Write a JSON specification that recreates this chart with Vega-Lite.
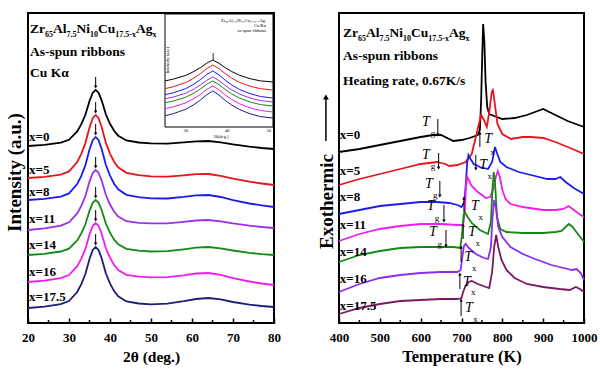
{
"$schema":"https://vega.github.io/schema/vega-lite/v6.json",
"background":"white",
"padding":{"left":4,"top":12,"right":0,"bottom":0},
"datasets":{
"xrd":[
{"sample":"x=0","theta":20,"y":177.0},{"sample":"x=0","theta":24,"y":178.1},{"sample":"x=0","theta":28,"y":180.3},{"sample":"x=0","theta":30,"y":183.2},{"sample":"x=0","theta":32,"y":191.6},{"sample":"x=0","theta":33,"y":198.8},{"sample":"x=0","theta":34,"y":208.2},{"sample":"x=0","theta":35,"y":222.0},{"sample":"x=0","theta":35.8,"y":230.3},{"sample":"x=0","theta":36.5,"y":233.1},{"sample":"x=0","theta":37.2,"y":230.4},{"sample":"x=0","theta":38,"y":222.2},{"sample":"x=0","theta":39,"y":208.5},{"sample":"x=0","theta":40,"y":199.2},{"sample":"x=0","theta":41,"y":192.2},{"sample":"x=0","theta":42,"y":187.3},{"sample":"x=0","theta":44,"y":182.5},{"sample":"x=0","theta":47,"y":180.5},{"sample":"x=0","theta":50,"y":179.6},{"sample":"x=0","theta":54,"y":179.4},{"sample":"x=0","theta":58,"y":180.6},{"sample":"x=0","theta":61,"y":181.7},{"sample":"x=0","theta":64,"y":182.0},{"sample":"x=0","theta":67,"y":180.7},{"sample":"x=0","theta":70,"y":178.6},{"sample":"x=0","theta":74,"y":176.3},{"sample":"x=0","theta":77,"y":175.0},{"sample":"x=0","theta":80,"y":174.0},
{"sample":"x=5","theta":20,"y":145.0},{"sample":"x=5","theta":24,"y":146.1},{"sample":"x=5","theta":28,"y":148.4},{"sample":"x=5","theta":30,"y":151.6},{"sample":"x=5","theta":32,"y":161.0},{"sample":"x=5","theta":33,"y":169.2},{"sample":"x=5","theta":34,"y":179.9},{"sample":"x=5","theta":35,"y":195.5},{"sample":"x=5","theta":35.8,"y":204.9},{"sample":"x=5","theta":36.5,"y":208.0},{"sample":"x=5","theta":37.2,"y":205.0},{"sample":"x=5","theta":38,"y":195.6},{"sample":"x=5","theta":39,"y":180.0},{"sample":"x=5","theta":40,"y":169.4},{"sample":"x=5","theta":41,"y":161.3},{"sample":"x=5","theta":42,"y":155.7},{"sample":"x=5","theta":44,"y":150.2},{"sample":"x=5","theta":47,"y":147.8},{"sample":"x=5","theta":50,"y":146.6},{"sample":"x=5","theta":54,"y":146.3},{"sample":"x=5","theta":58,"y":147.6},{"sample":"x=5","theta":61,"y":148.8},{"sample":"x=5","theta":64,"y":149.0},{"sample":"x=5","theta":67,"y":147.2},{"sample":"x=5","theta":70,"y":144.4},{"sample":"x=5","theta":74,"y":141.3},{"sample":"x=5","theta":77,"y":139.5},{"sample":"x=5","theta":80,"y":138.0},
{"sample":"x=8","theta":20,"y":123.0},{"sample":"x=8","theta":24,"y":124.1},{"sample":"x=8","theta":28,"y":126.4},{"sample":"x=8","theta":30,"y":129.6},{"sample":"x=8","theta":32,"y":139.0},{"sample":"x=8","theta":33,"y":147.2},{"sample":"x=8","theta":34,"y":157.9},{"sample":"x=8","theta":35,"y":173.5},{"sample":"x=8","theta":35.8,"y":182.9},{"sample":"x=8","theta":36.5,"y":186.0},{"sample":"x=8","theta":37.2,"y":183.0},{"sample":"x=8","theta":38,"y":173.6},{"sample":"x=8","theta":39,"y":158.0},{"sample":"x=8","theta":40,"y":147.4},{"sample":"x=8","theta":41,"y":139.3},{"sample":"x=8","theta":42,"y":133.7},{"sample":"x=8","theta":44,"y":128.2},{"sample":"x=8","theta":47,"y":125.8},{"sample":"x=8","theta":50,"y":124.6},{"sample":"x=8","theta":54,"y":124.5},{"sample":"x=8","theta":58,"y":126.1},{"sample":"x=8","theta":61,"y":127.6},{"sample":"x=8","theta":64,"y":128.0},{"sample":"x=8","theta":67,"y":126.0},{"sample":"x=8","theta":70,"y":122.9},{"sample":"x=8","theta":74,"y":119.5},{"sample":"x=8","theta":77,"y":117.6},{"sample":"x=8","theta":80,"y":116.0},
{"sample":"x=11","theta":20,"y":93.0},{"sample":"x=11","theta":24,"y":94.7},{"sample":"x=11","theta":28,"y":97.4},{"sample":"x=11","theta":30,"y":100.7},{"sample":"x=11","theta":32,"y":109.6},{"sample":"x=11","theta":33,"y":117.1},{"sample":"x=11","theta":34,"y":127.0},{"sample":"x=11","theta":35,"y":141.4},{"sample":"x=11","theta":35.8,"y":150.1},{"sample":"x=11","theta":36.5,"y":153.0},{"sample":"x=11","theta":37.2,"y":150.3},{"sample":"x=11","theta":38,"y":142.0},{"sample":"x=11","theta":39,"y":128.0},{"sample":"x=11","theta":40,"y":118.5},{"sample":"x=11","theta":41,"y":111.4},{"sample":"x=11","theta":42,"y":106.5},{"sample":"x=11","theta":44,"y":101.8},{"sample":"x=11","theta":47,"y":100.1},{"sample":"x=11","theta":50,"y":99.6},{"sample":"x=11","theta":54,"y":99.7},{"sample":"x=11","theta":58,"y":101.2},{"sample":"x=11","theta":61,"y":102.5},{"sample":"x=11","theta":64,"y":103.0},{"sample":"x=11","theta":67,"y":101.7},{"sample":"x=11","theta":70,"y":99.6},{"sample":"x=11","theta":74,"y":97.3},{"sample":"x=11","theta":77,"y":96.0},{"sample":"x=11","theta":80,"y":95.0},
{"sample":"x=14","theta":20,"y":68.0},{"sample":"x=14","theta":24,"y":69.2},{"sample":"x=14","theta":28,"y":71.5},{"sample":"x=14","theta":30,"y":74.3},{"sample":"x=14","theta":32,"y":82.5},{"sample":"x=14","theta":33,"y":89.6},{"sample":"x=14","theta":34,"y":98.7},{"sample":"x=14","theta":35,"y":112.2},{"sample":"x=14","theta":35.8,"y":120.3},{"sample":"x=14","theta":36.5,"y":123.0},{"sample":"x=14","theta":37.2,"y":120.4},{"sample":"x=14","theta":38,"y":112.5},{"sample":"x=14","theta":39,"y":99.2},{"sample":"x=14","theta":40,"y":90.3},{"sample":"x=14","theta":41,"y":83.4},{"sample":"x=14","theta":42,"y":78.7},{"sample":"x=14","theta":44,"y":74.1},{"sample":"x=14","theta":47,"y":72.3},{"sample":"x=14","theta":50,"y":71.5},{"sample":"x=14","theta":54,"y":71.9},{"sample":"x=14","theta":58,"y":73.7},{"sample":"x=14","theta":61,"y":75.3},{"sample":"x=14","theta":64,"y":76.0},{"sample":"x=14","theta":67,"y":74.7},{"sample":"x=14","theta":70,"y":72.5},{"sample":"x=14","theta":74,"y":70.2},{"sample":"x=14","theta":77,"y":68.9},{"sample":"x=14","theta":80,"y":68.0},
{"sample":"x=16","theta":20,"y":41.0},{"sample":"x=16","theta":24,"y":42.4},{"sample":"x=16","theta":28,"y":44.9},{"sample":"x=16","theta":30,"y":48.0},{"sample":"x=16","theta":32,"y":56.8},{"sample":"x=16","theta":33,"y":64.3},{"sample":"x=16","theta":34,"y":74.1},{"sample":"x=16","theta":35,"y":88.4},{"sample":"x=16","theta":35.8,"y":97.1},{"sample":"x=16","theta":36.5,"y":100.0},{"sample":"x=16","theta":37.2,"y":97.3},{"sample":"x=16","theta":38,"y":88.8},{"sample":"x=16","theta":39,"y":74.7},{"sample":"x=16","theta":40,"y":65.3},{"sample":"x=16","theta":41,"y":58.0},{"sample":"x=16","theta":42,"y":53.0},{"sample":"x=16","theta":44,"y":48.2},{"sample":"x=16","theta":47,"y":46.3},{"sample":"x=16","theta":50,"y":45.6},{"sample":"x=16","theta":54,"y":45.8},{"sample":"x=16","theta":58,"y":47.7},{"sample":"x=16","theta":61,"y":49.5},{"sample":"x=16","theta":64,"y":50.0},{"sample":"x=16","theta":67,"y":48.1},{"sample":"x=16","theta":70,"y":44.9},{"sample":"x=16","theta":74,"y":41.5},{"sample":"x=16","theta":77,"y":39.5},{"sample":"x=16","theta":80,"y":38.0},
{"sample":"x=17.5","theta":20,"y":15.0},{"sample":"x=17.5","theta":24,"y":16.3},{"sample":"x=17.5","theta":28,"y":18.8},{"sample":"x=17.5","theta":30,"y":21.9},{"sample":"x=17.5","theta":32,"y":31.0},{"sample":"x=17.5","theta":33,"y":38.9},{"sample":"x=17.5","theta":34,"y":49.0},{"sample":"x=17.5","theta":35,"y":64.0},{"sample":"x=17.5","theta":35.8,"y":73.0},{"sample":"x=17.5","theta":36.5,"y":76.0},{"sample":"x=17.5","theta":37.2,"y":73.1},{"sample":"x=17.5","theta":38,"y":64.3},{"sample":"x=17.5","theta":39,"y":49.5},{"sample":"x=17.5","theta":40,"y":39.6},{"sample":"x=17.5","theta":41,"y":31.9},{"sample":"x=17.5","theta":42,"y":26.7},{"sample":"x=17.5","theta":44,"y":21.6},{"sample":"x=17.5","theta":47,"y":19.5},{"sample":"x=17.5","theta":50,"y":18.6},{"sample":"x=17.5","theta":54,"y":19.3},{"sample":"x=17.5","theta":58,"y":21.8},{"sample":"x=17.5","theta":61,"y":24.0},{"sample":"x=17.5","theta":64,"y":25.0},{"sample":"x=17.5","theta":67,"y":23.6},{"sample":"x=17.5","theta":70,"y":21.0},{"sample":"x=17.5","theta":74,"y":18.4},{"sample":"x=17.5","theta":77,"y":17.0},{"sample":"x=17.5","theta":80,"y":16.0}
],
"inset":[
{"sample":"x=0","theta":25,"y":46.1},{"sample":"x=0","theta":27,"y":47.9},{"sample":"x=0","theta":30,"y":51.6},{"sample":"x=0","theta":32,"y":55.6},{"sample":"x=0","theta":33.5,"y":59.3},{"sample":"x=0","theta":35,"y":63.7},{"sample":"x=0","theta":36.5,"y":67},{"sample":"x=0","theta":38,"y":63.7},{"sample":"x=0","theta":39.5,"y":59.3},{"sample":"x=0","theta":41,"y":55.6},{"sample":"x=0","theta":43,"y":51.6},{"sample":"x=0","theta":45.5,"y":48.3},{"sample":"x=0","theta":48,"y":46.1},{"sample":"x=0","theta":51,"y":45},
{"sample":"x=5","theta":25,"y":38.3},{"sample":"x=5","theta":27,"y":40.3},{"sample":"x=5","theta":30,"y":44.5},{"sample":"x=5","theta":32,"y":49.0},{"sample":"x=5","theta":33.5,"y":53.3},{"sample":"x=5","theta":35,"y":58.3},{"sample":"x=5","theta":36.5,"y":62},{"sample":"x=5","theta":38,"y":58.3},{"sample":"x=5","theta":39.5,"y":53.3},{"sample":"x=5","theta":41,"y":49.0},{"sample":"x=5","theta":43,"y":44.5},{"sample":"x=5","theta":45.5,"y":40.8},{"sample":"x=5","theta":48,"y":38.3},{"sample":"x=5","theta":51,"y":37},
{"sample":"x=8","theta":25,"y":32.3},{"sample":"x=8","theta":27,"y":34.2},{"sample":"x=8","theta":30,"y":38.4},{"sample":"x=8","theta":32,"y":42.9},{"sample":"x=8","theta":33.5,"y":47.3},{"sample":"x=8","theta":35,"y":52.3},{"sample":"x=8","theta":36.5,"y":56.1},{"sample":"x=8","theta":38,"y":52.1},{"sample":"x=8","theta":39.5,"y":46.8},{"sample":"x=8","theta":41,"y":42.2},{"sample":"x=8","theta":43,"y":37.4},{"sample":"x=8","theta":45.5,"y":33.3},{"sample":"x=8","theta":48,"y":30.5},{"sample":"x=8","theta":51,"y":29},
{"sample":"x=11","theta":25,"y":28.2},{"sample":"x=11","theta":27,"y":30.0},{"sample":"x=11","theta":30,"y":33.8},{"sample":"x=11","theta":32,"y":38.0},{"sample":"x=11","theta":33.5,"y":42.0},{"sample":"x=11","theta":35,"y":46.6},{"sample":"x=11","theta":36.5,"y":50.1},{"sample":"x=11","theta":38,"y":46.4},{"sample":"x=11","theta":39.5,"y":41.5},{"sample":"x=11","theta":41,"y":37.2},{"sample":"x=11","theta":43,"y":32.8},{"sample":"x=11","theta":45.5,"y":29.0},{"sample":"x=11","theta":48,"y":26.4},{"sample":"x=11","theta":51,"y":25},
{"sample":"x=14","theta":25,"y":24.2},{"sample":"x=14","theta":27,"y":26.0},{"sample":"x=14","theta":30,"y":29.8},{"sample":"x=14","theta":32,"y":34.0},{"sample":"x=14","theta":33.5,"y":38.0},{"sample":"x=14","theta":35,"y":42.6},{"sample":"x=14","theta":36.5,"y":46.1},{"sample":"x=14","theta":38,"y":42.4},{"sample":"x=14","theta":39.5,"y":37.5},{"sample":"x=14","theta":41,"y":33.2},{"sample":"x=14","theta":43,"y":28.8},{"sample":"x=14","theta":45.5,"y":25.0},{"sample":"x=14","theta":48,"y":22.4},{"sample":"x=14","theta":51,"y":21},
{"sample":"x=16","theta":25,"y":18.3},{"sample":"x=16","theta":27,"y":20.1},{"sample":"x=16","theta":30,"y":24.1},{"sample":"x=16","theta":32,"y":28.5},{"sample":"x=16","theta":33.5,"y":32.6},{"sample":"x=16","theta":35,"y":37.5},{"sample":"x=16","theta":36.5,"y":41.1},{"sample":"x=16","theta":38,"y":37.2},{"sample":"x=16","theta":39.5,"y":32.1},{"sample":"x=16","theta":41,"y":27.7},{"sample":"x=16","theta":43,"y":23.1},{"sample":"x=16","theta":45.5,"y":19.2},{"sample":"x=16","theta":48,"y":16.5},{"sample":"x=16","theta":51,"y":15},
{"sample":"x=17.5","theta":25,"y":11.3},{"sample":"x=17.5","theta":27,"y":13.3},{"sample":"x=17.5","theta":30,"y":17.8},{"sample":"x=17.5","theta":32,"y":22.4},{"sample":"x=17.5","theta":33.5,"y":26.9},{"sample":"x=17.5","theta":35,"y":32.1},{"sample":"x=17.5","theta":36.5,"y":36.1},{"sample":"x=17.5","theta":38,"y":32.0},{"sample":"x=17.5","theta":39.5,"y":26.6},{"sample":"x=17.5","theta":41,"y":22.1},{"sample":"x=17.5","theta":43,"y":17.3},{"sample":"x=17.5","theta":45.5,"y":13.2},{"sample":"x=17.5","theta":48,"y":10.4},{"sample":"x=17.5","theta":51,"y":9}
],
"dsc":[
{"sample":"x=0","T":400,"q":171},{"sample":"x=0","T":450,"q":174},{"sample":"x=0","T":500,"q":178},{"sample":"x=0","T":550,"q":182},{"sample":"x=0","T":600,"q":186},{"sample":"x=0","T":630,"q":188},{"sample":"x=0","T":650,"q":188},{"sample":"x=0","T":665,"q":185},{"sample":"x=0","T":680,"q":182},{"sample":"x=0","T":700,"q":183},{"sample":"x=0","T":720,"q":185},{"sample":"x=0","T":740,"q":188},{"sample":"x=0","T":745,"q":193},{"sample":"x=0","T":748,"q":221},{"sample":"x=0","T":751,"q":271},{"sample":"x=0","T":753,"q":299},{"sample":"x=0","T":756,"q":281},{"sample":"x=0","T":759,"q":241},{"sample":"x=0","T":763,"q":216},{"sample":"x=0","T":768,"q":209},{"sample":"x=0","T":780,"q":207},{"sample":"x=0","T":800,"q":204},{"sample":"x=0","T":830,"q":205},{"sample":"x=0","T":860,"q":208},{"sample":"x=0","T":880,"q":211},{"sample":"x=0","T":900,"q":214},{"sample":"x=0","T":915,"q":211},{"sample":"x=0","T":930,"q":208},{"sample":"x=0","T":960,"q":202},{"sample":"x=0","T":1000,"q":196},
{"sample":"x=5","T":400,"q":138},{"sample":"x=5","T":450,"q":144},{"sample":"x=5","T":500,"q":149},{"sample":"x=5","T":550,"q":154},{"sample":"x=5","T":600,"q":159},{"sample":"x=5","T":640,"q":161},{"sample":"x=5","T":660,"q":159},{"sample":"x=5","T":670,"q":157},{"sample":"x=5","T":690,"q":158},{"sample":"x=5","T":710,"q":161},{"sample":"x=5","T":725,"q":169},{"sample":"x=5","T":735,"q":186},{"sample":"x=5","T":748,"q":208},{"sample":"x=5","T":755,"q":203},{"sample":"x=5","T":762,"q":196},{"sample":"x=5","T":768,"q":211},{"sample":"x=5","T":774,"q":231},{"sample":"x=5","T":777,"q":233},{"sample":"x=5","T":781,"q":221},{"sample":"x=5","T":788,"q":199},{"sample":"x=5","T":800,"q":189},{"sample":"x=5","T":821,"q":184},{"sample":"x=5","T":850,"q":186},{"sample":"x=5","T":870,"q":186},{"sample":"x=5","T":900,"q":185},{"sample":"x=5","T":930,"q":181},{"sample":"x=5","T":960,"q":176},{"sample":"x=5","T":1000,"q":169},
{"sample":"x=8","T":400,"q":109},{"sample":"x=8","T":450,"q":113},{"sample":"x=8","T":500,"q":117},{"sample":"x=8","T":550,"q":119},{"sample":"x=8","T":600,"q":121},{"sample":"x=8","T":640,"q":121},{"sample":"x=8","T":670,"q":120},{"sample":"x=8","T":690,"q":118},{"sample":"x=8","T":700,"q":116},{"sample":"x=8","T":707,"q":121},{"sample":"x=8","T":711,"q":141},{"sample":"x=8","T":714,"q":161},{"sample":"x=8","T":717,"q":168},{"sample":"x=8","T":722,"q":164},{"sample":"x=8","T":730,"q":159},{"sample":"x=8","T":745,"q":156},{"sample":"x=8","T":765,"q":154},{"sample":"x=8","T":775,"q":161},{"sample":"x=8","T":782,"q":176},{"sample":"x=8","T":786,"q":171},{"sample":"x=8","T":795,"q":161},{"sample":"x=8","T":810,"q":156},{"sample":"x=8","T":840,"q":151},{"sample":"x=8","T":880,"q":147},{"sample":"x=8","T":910,"q":144},{"sample":"x=8","T":930,"q":144},{"sample":"x=8","T":942,"q":146},{"sample":"x=8","T":955,"q":141},{"sample":"x=8","T":975,"q":135},{"sample":"x=8","T":1000,"q":129},
{"sample":"x=11","T":400,"q":82},{"sample":"x=11","T":450,"q":89},{"sample":"x=11","T":500,"q":94},{"sample":"x=11","T":550,"q":97},{"sample":"x=11","T":600,"q":99},{"sample":"x=11","T":650,"q":99},{"sample":"x=11","T":690,"q":98},{"sample":"x=11","T":704,"q":98},{"sample":"x=11","T":708,"q":111},{"sample":"x=11","T":711,"q":136},{"sample":"x=11","T":714,"q":146},{"sample":"x=11","T":718,"q":143},{"sample":"x=11","T":725,"q":137},{"sample":"x=11","T":740,"q":131},{"sample":"x=11","T":760,"q":125},{"sample":"x=11","T":770,"q":126},{"sample":"x=11","T":778,"q":134},{"sample":"x=11","T":784,"q":146},{"sample":"x=11","T":789,"q":152},{"sample":"x=11","T":794,"q":146},{"sample":"x=11","T":800,"q":133},{"sample":"x=11","T":808,"q":124},{"sample":"x=11","T":820,"q":119},{"sample":"x=11","T":850,"q":116},{"sample":"x=11","T":900,"q":113},{"sample":"x=11","T":930,"q":113},{"sample":"x=11","T":950,"q":114},{"sample":"x=11","T":962,"q":117},{"sample":"x=11","T":972,"q":114},{"sample":"x=11","T":985,"q":110},{"sample":"x=11","T":1000,"q":106},
{"sample":"x=14","T":400,"q":61},{"sample":"x=14","T":450,"q":68},{"sample":"x=14","T":500,"q":72},{"sample":"x=14","T":550,"q":75},{"sample":"x=14","T":600,"q":76},{"sample":"x=14","T":650,"q":76},{"sample":"x=14","T":680,"q":76},{"sample":"x=14","T":697,"q":75},{"sample":"x=14","T":702,"q":91},{"sample":"x=14","T":705,"q":108},{"sample":"x=14","T":708,"q":111},{"sample":"x=14","T":715,"q":106},{"sample":"x=14","T":725,"q":100},{"sample":"x=14","T":745,"q":93},{"sample":"x=14","T":765,"q":89},{"sample":"x=14","T":772,"q":101},{"sample":"x=14","T":776,"q":136},{"sample":"x=14","T":779,"q":151},{"sample":"x=14","T":782,"q":141},{"sample":"x=14","T":787,"q":106},{"sample":"x=14","T":795,"q":94},{"sample":"x=14","T":810,"q":91},{"sample":"x=14","T":850,"q":90},{"sample":"x=14","T":900,"q":90},{"sample":"x=14","T":930,"q":91},{"sample":"x=14","T":945,"q":92},{"sample":"x=14","T":955,"q":96},{"sample":"x=14","T":963,"q":99},{"sample":"x=14","T":972,"q":96},{"sample":"x=14","T":985,"q":89},{"sample":"x=14","T":1000,"q":81},
{"sample":"x=16","T":400,"q":31},{"sample":"x=16","T":450,"q":39},{"sample":"x=16","T":500,"q":45},{"sample":"x=16","T":550,"q":48},{"sample":"x=16","T":600,"q":50},{"sample":"x=16","T":650,"q":51},{"sample":"x=16","T":690,"q":51},{"sample":"x=16","T":698,"q":53},{"sample":"x=16","T":702,"q":66},{"sample":"x=16","T":706,"q":77},{"sample":"x=16","T":710,"q":79},{"sample":"x=16","T":718,"q":75},{"sample":"x=16","T":735,"q":69},{"sample":"x=16","T":755,"q":65},{"sample":"x=16","T":765,"q":64},{"sample":"x=16","T":772,"q":76},{"sample":"x=16","T":776,"q":106},{"sample":"x=16","T":780,"q":123},{"sample":"x=16","T":784,"q":116},{"sample":"x=16","T":790,"q":96},{"sample":"x=16","T":800,"q":86},{"sample":"x=16","T":820,"q":76},{"sample":"x=16","T":850,"q":69},{"sample":"x=16","T":880,"q":64},{"sample":"x=16","T":920,"q":58},{"sample":"x=16","T":950,"q":55},{"sample":"x=16","T":970,"q":53},{"sample":"x=16","T":982,"q":54},{"sample":"x=16","T":992,"q":50},{"sample":"x=16","T":1000,"q":43},
{"sample":"x=17.5","T":400,"q":9},{"sample":"x=17.5","T":450,"q":15},{"sample":"x=17.5","T":500,"q":19},{"sample":"x=17.5","T":550,"q":22},{"sample":"x=17.5","T":600,"q":23},{"sample":"x=17.5","T":650,"q":24},{"sample":"x=17.5","T":690,"q":24},{"sample":"x=17.5","T":700,"q":25},{"sample":"x=17.5","T":704,"q":31},{"sample":"x=17.5","T":710,"q":37},{"sample":"x=17.5","T":718,"q":41},{"sample":"x=17.5","T":725,"q":42},{"sample":"x=17.5","T":740,"q":39},{"sample":"x=17.5","T":760,"q":36},{"sample":"x=17.5","T":768,"q":35},{"sample":"x=17.5","T":775,"q":51},{"sample":"x=17.5","T":780,"q":76},{"sample":"x=17.5","T":785,"q":88},{"sample":"x=17.5","T":790,"q":76},{"sample":"x=17.5","T":798,"q":63},{"sample":"x=17.5","T":810,"q":53},{"sample":"x=17.5","T":830,"q":45},{"sample":"x=17.5","T":860,"q":39},{"sample":"x=17.5","T":900,"q":36},{"sample":"x=17.5","T":940,"q":34},{"sample":"x=17.5","T":965,"q":33},{"sample":"x=17.5","T":980,"q":36},{"sample":"x=17.5","T":990,"q":34},{"sample":"x=17.5","T":1000,"q":31}
],
"labelsL":[{"theta":20.25,"y":186,"text":"x=0"},{"theta":20.25,"y":153,"text":"x=5"},{"theta":20.25,"y":131,"text":"x=8"},{"theta":20.25,"y":104,"text":"x=11"},{"theta":20.25,"y":78,"text":"x=14"},{"theta":20.25,"y":51,"text":"x=16"},{"theta":20.25,"y":26,"text":"x=17.5"}],
"labelsR":[{"T":402,"q":188,"text":"x=0"},{"T":402,"q":152,"text":"x=5"},{"T":402,"q":126,"text":"x=8"},{"T":402,"q":98,"text":"x=11"},{"T":402,"q":71,"text":"x=14"},{"T":402,"q":44,"text":"x=16"},{"T":402,"q":17,"text":"x=17.5"}],
"headL":[{"theta":20.49,"y":290,"text":"Zr","role":"main"},{"theta":24.15,"y":286,"text":"65","role":"sub"},{"theta":26.10,"y":290,"text":"Al","role":"main"},{"theta":29.39,"y":286,"text":"7.5","role":"sub"},{"theta":31.83,"y":290,"text":"Ni","role":"main"},{"theta":35.12,"y":286,"text":"10","role":"sub"},{"theta":37.07,"y":290,"text":"Cu","role":"main"},{"theta":41.28,"y":286,"text":"17.5-x","role":"sub"},{"theta":46.34,"y":290,"text":"Ag","role":"main"},{"theta":50.37,"y":286,"text":"x","role":"sub"},{"theta":20.49,"y":267,"text":"As-spun ribbons","role":"main"},{"theta":20.49,"y":246,"text":"Cu Kα","role":"main"}],
"headR":[{"T":409.8,"q":286,"text":"Zr","role":"main"},{"T":446.5,"q":282,"text":"65","role":"sub"},{"T":466.1,"q":286,"text":"Al","role":"main"},{"T":499.2,"q":282,"text":"7.5","role":"sub"},{"T":523.7,"q":286,"text":"Ni","role":"main"},{"T":556.7,"q":282,"text":"10","role":"sub"},{"T":576.3,"q":286,"text":"Cu","role":"main"},{"T":618.6,"q":282,"text":"17.5-x","role":"sub"},{"T":669.4,"q":286,"text":"Ag","role":"main"},{"T":709.8,"q":282,"text":"x","role":"sub"},{"T":409.8,"q":263,"text":"As-spun ribbons","role":"main"},{"T":409.8,"q":238,"text":"Heating rate, 0.67K/s","role":"main"}],
"annR":[
{"T":613,"q":201,"text":"T","kind":"T"},{"T":630,"q":190,"text":"g","kind":"sub"},{"T":765,"q":184,"text":"T","kind":"T"},{"T":776,"q":171,"text":"x","kind":"sub"},
{"T":613,"q":168,"text":"T","kind":"T"},{"T":630,"q":157,"text":"g","kind":"sub"},{"T":753,"q":158,"text":"T","kind":"T"},{"T":769,"q":147,"text":"x","kind":"sub"},
{"T":620,"q":139,"text":"T","kind":"T"},{"T":636,"q":128,"text":"g","kind":"sub"},{"T":733,"q":117,"text":"T","kind":"T"},{"T":747,"q":106,"text":"x","kind":"sub"},
{"T":625,"q":117,"text":"T","kind":"T"},{"T":640,"q":105,"text":"g","kind":"sub"},{"T":726,"q":91,"text":"T","kind":"T"},{"T":740,"q":80,"text":"x","kind":"sub"},
{"T":630,"q":91,"text":"T","kind":"T"},{"T":647,"q":79,"text":"g","kind":"sub"},{"T":716,"q":66,"text":"T","kind":"T"},{"T":731,"q":55,"text":"x","kind":"sub"},
{"T":713,"q":41,"text":"T","kind":"T"},{"T":729,"q":31,"text":"x","kind":"sub"},
{"T":718,"q":15,"text":"T","kind":"T"},{"T":734,"q":4,"text":"x","kind":"sub"}
],
"arrowsR":[
{"T":642,"tail":204,"tip":188,"dir":"down"},{"T":644,"tail":170,"tip":155,"dir":"down"},{"T":647,"tail":142,"tip":127,"dir":"down"},{"T":657,"tail":118,"tip":102,"dir":"down"},{"T":662,"tail":93,"tip":77,"dir":"down"},{"T":735,"tail":168,"tip":154,"dir":"down"},
{"T":745,"tail":176,"tip":190,"dir":"up"},{"T":706,"tail":111,"tip":125,"dir":"up"},{"T":704,"tail":84,"tip":98,"dir":"up"},{"T":699,"tail":61,"tip":76,"dir":"up"},{"T":696,"tail":34,"tip":49,"dir":"up"},{"T":699,"tail":7,"tip":23,"dir":"up"}
],
"arrowsL":[{"theta":36.5,"tail":246,"tip":236},{"theta":36.5,"tail":221,"tip":211},{"theta":36.5,"tail":199,"tip":189},{"theta":36.5,"tail":166,"tip":156},{"theta":36.5,"tail":136,"tip":126},{"theta":36.5,"tail":113,"tip":103},{"theta":36.5,"tail":89,"tip":79}],
"minorL":[{"theta":25},{"theta":35},{"theta":45},{"theta":55},{"theta":65},{"theta":75}],
"minorR":[{"T":450},{"T":550},{"T":650},{"T":750},{"T":850},{"T":950}],
"insetHead":[{"theta":49.3,"y":106,"text":"Zr₆₅Al₇.₅Ni₁₀Cu₁₇.₅₋ₓAgₓ"},{"theta":49.3,"y":101,"text":"Cu Kα"},{"theta":49.3,"y":96,"text":"as-spun ribbons"}],
"insetTicks":[{"theta":30,"y":-4,"text":"30"},{"theta":40,"y":-4,"text":"40"},{"theta":50,"y":-4,"text":"50"},{"theta":38.5,"y":-10,"text":"2θ(deg.)"}]
},
"hconcat":[
{
"width":246,"height":310,
"layer":[
{"layer":[
{"data":{"name":"xrd"},"mark":{"type":"line","strokeWidth":1.8},
 "encoding":{
  "x":{"field":"theta","type":"quantitative","scale":{"domain":[20,80],"nice":false,"zero":false},
       "axis":{"title":"2θ (deg.)","values":[20,30,40,50,60,70,80],"format":"d","tickSize":-5,"tickWidth":1.5,"labelPadding":13,"titleFontSize":15.5,"titlePadding":5}},
  "y":{"field":"y","type":"quantitative","scale":{"domain":[0,310],"nice":false,"zero":false},
       "axis":{"title":"Intensity (a.u.)","labels":false,"ticks":false,"titleFontSize":19,"titlePadding":4,"titleY":159}},
  "color":{"field":"sample","type":"nominal","legend":null,
       "scale":{"domain":["x=0","x=5","x=8","x=11","x=14","x=16","x=17.5"],"range":["#000000","#e8141b","#1c1cf0","#9b30e8","#128a12","#f01cf0","#1c1c7c"]}},
  "detail":{"field":"sample"}}},
{"data":{"name":"arrowsL"},"mark":{"type":"rule","color":"black","strokeWidth":1},
 "encoding":{"x":{"field":"theta","type":"quantitative"},"y":{"field":"tail","type":"quantitative"},"y2":{"field":"tip"}}},
{"data":{"name":"arrowsL"},"mark":{"type":"point","shape":"triangle-down","filled":true,"size":12,"color":"black","opacity":1},
 "encoding":{"x":{"field":"theta","type":"quantitative"},"y":{"field":"tip","type":"quantitative"}}},
{"data":{"name":"labelsL"},"mark":{"type":"text","font":"Liberation Serif","fontWeight":"bold","fontSize":13,"align":"left","baseline":"middle","color":"black"},
 "encoding":{"x":{"field":"theta","type":"quantitative"},"y":{"field":"y","type":"quantitative"},"text":{"field":"text"}}},
{"data":{"name":"headL"},"transform":[{"filter":"datum.role==='main'"}],"mark":{"type":"text","font":"Liberation Serif","fontWeight":"bold","fontSize":13.5,"align":"left","baseline":"alphabetic","color":"black"},
 "encoding":{"x":{"field":"theta","type":"quantitative"},"y":{"field":"y","type":"quantitative"},"text":{"field":"text"}}},
{"data":{"name":"headL"},"transform":[{"filter":"datum.role==='sub'"}],"mark":{"type":"text","font":"Liberation Serif","fontWeight":"bold","fontSize":8,"align":"left","baseline":"alphabetic","color":"black"},
 "encoding":{"x":{"field":"theta","type":"quantitative"},"y":{"field":"y","type":"quantitative"},"text":{"field":"text"}}},
{"data":{"name":"minorL"},"mark":{"type":"rule","color":"black","strokeWidth":1.5},
 "encoding":{"x":{"field":"theta","type":"quantitative"},"y":{"datum":0,"type":"quantitative"},"y2":{"datum":3}}}
]},
{"layer":[
{"data":{"values":[{}]},"mark":{"type":"rect","fill":"white","stroke":"black","strokeWidth":1},
 "encoding":{
  "x":{"datum":25,"type":"quantitative","scale":{"domain":[25,51],"range":[137,245],"nice":false,"zero":false},"axis":null},
  "x2":{"datum":51},
  "y":{"datum":0,"type":"quantitative","scale":{"domain":[0,113],"range":[114,1],"nice":false,"zero":false},"axis":null},
  "y2":{"datum":113}}},
{"data":{"name":"inset"},"mark":{"type":"line","strokeWidth":1},
 "encoding":{"x":{"field":"theta","type":"quantitative"},"y":{"field":"y","type":"quantitative"},"color":{"field":"sample","type":"nominal","legend":null},"detail":{"field":"sample"}}},
{"data":{"values":[{}]},"mark":{"type":"rule","color":"black","strokeWidth":0.8},
 "encoding":{"x":{"datum":36.6,"type":"quantitative"},"y":{"datum":67,"type":"quantitative"},"y2":{"datum":74}}},
{"data":{"name":"insetHead"},"mark":{"type":"text","font":"Liberation Serif","fontSize":4.5,"align":"right","baseline":"middle","color":"black"},
 "encoding":{"x":{"field":"theta","type":"quantitative"},"y":{"field":"y","type":"quantitative"},"text":{"field":"text"}}},
{"data":{"name":"insetTicks"},"mark":{"type":"text","font":"Liberation Serif","fontSize":4.5,"align":"center","baseline":"middle","color":"black"},
 "encoding":{"x":{"field":"theta","type":"quantitative"},"y":{"field":"y","type":"quantitative"},"text":{"field":"text"}}},
{"data":{"values":[{}]},"mark":{"type":"text","font":"Liberation Serif","fontSize":4.5,"align":"center","baseline":"middle","angle":270,"color":"black","text":"Intensity (a.u.)"},
 "encoding":{"x":{"datum":25.8,"type":"quantitative"},"y":{"datum":67,"type":"quantitative"}}}
]}
],
"resolve":{"scale":{"x":"independent","y":"independent"}}
},
{
"width":245,"height":310,
"layer":[
{"data":{"name":"dsc"},"mark":{"type":"line","strokeWidth":1.8},
 "encoding":{
  "x":{"field":"T","type":"quantitative","scale":{"domain":[400,1000],"nice":false,"zero":false},
       "axis":{"title":"Temperature (K)","values":[400,500,600,700,800,900,1000],"format":"d","tickSize":-5,"tickWidth":1.5,"labelPadding":13,"titleFontSize":16.5,"titlePadding":4}},
  "y":{"field":"q","type":"quantitative","scale":{"domain":[0,310],"nice":false,"zero":false},
       "axis":{"title":"Exothermic","labels":false,"ticks":false,"titleFontSize":19,"titlePadding":3,"titleY":188}},
  "color":{"field":"sample","type":"nominal","legend":null,
       "scale":{"domain":["x=0","x=5","x=8","x=11","x=14","x=16","x=17.5"],"range":["#000000","#e8141b","#1c1cf0","#f01cf0","#128a12","#8b2cf0","#7a1a62"]}},
  "detail":{"field":"sample"}}},
{"data":{"name":"arrowsR"},"mark":{"type":"rule","color":"black","strokeWidth":1},
 "encoding":{"x":{"field":"T","type":"quantitative"},"y":{"field":"tail","type":"quantitative"},"y2":{"field":"tip"}}},
{"data":{"name":"arrowsR"},"transform":[{"filter":"datum.dir==='down'"}],"mark":{"type":"point","shape":"triangle-down","filled":true,"size":12,"color":"black","opacity":1},
 "encoding":{"x":{"field":"T","type":"quantitative"},"y":{"field":"tip","type":"quantitative"}}},
{"data":{"name":"arrowsR"},"transform":[{"filter":"datum.dir==='up'"}],"mark":{"type":"point","shape":"triangle-up","filled":true,"size":12,"color":"black","opacity":1},
 "encoding":{"x":{"field":"T","type":"quantitative"},"y":{"field":"tip","type":"quantitative"}}},
{"data":{"name":"annR"},"transform":[{"filter":"datum.kind==='T'"}],"mark":{"type":"text","font":"Liberation Serif","fontStyle":"italic","fontSize":14,"align":"center","baseline":"middle","color":"black"},
 "encoding":{"x":{"field":"T","type":"quantitative"},"y":{"field":"q","type":"quantitative"},"text":{"field":"text"}}},
{"data":{"name":"annR"},"transform":[{"filter":"datum.kind==='sub'"}],"mark":{"type":"text","font":"Liberation Serif","fontSize":9,"align":"center","baseline":"middle","color":"black"},
 "encoding":{"x":{"field":"T","type":"quantitative"},"y":{"field":"q","type":"quantitative"},"text":{"field":"text"}}},
{"data":{"name":"labelsR"},"mark":{"type":"text","font":"Liberation Serif","fontWeight":"bold","fontSize":13,"align":"left","baseline":"middle","color":"black"},
 "encoding":{"x":{"field":"T","type":"quantitative"},"y":{"field":"q","type":"quantitative"},"text":{"field":"text"}}},
{"data":{"name":"headR"},"transform":[{"filter":"datum.role==='main'"}],"mark":{"type":"text","font":"Liberation Serif","fontWeight":"bold","fontSize":13.5,"align":"left","baseline":"alphabetic","color":"black"},
 "encoding":{"x":{"field":"T","type":"quantitative"},"y":{"field":"q","type":"quantitative"},"text":{"field":"text"}}},
{"data":{"name":"headR"},"transform":[{"filter":"datum.role==='sub'"}],"mark":{"type":"text","font":"Liberation Serif","fontWeight":"bold","fontSize":8,"align":"left","baseline":"alphabetic","color":"black"},
 "encoding":{"x":{"field":"T","type":"quantitative"},"y":{"field":"q","type":"quantitative"},"text":{"field":"text"}}},
{"data":{"name":"minorR"},"mark":{"type":"rule","color":"black","strokeWidth":1.5},
 "encoding":{"x":{"field":"T","type":"quantitative"},"y":{"datum":0,"type":"quantitative"},"y2":{"datum":3}}},
{"data":{"values":[{}]},"mark":{"type":"rule","color":"black","strokeWidth":1.5},
 "encoding":{"x":{"datum":368,"type":"quantitative"},"y":{"datum":182,"type":"quantitative"},"y2":{"datum":224}}},
{"data":{"values":[{}]},"mark":{"type":"point","shape":"triangle-up","filled":true,"size":35,"color":"black","opacity":1},
 "encoding":{"x":{"datum":368,"type":"quantitative"},"y":{"datum":226,"type":"quantitative"}}}
]
}
],
"resolve":{"scale":{"color":"independent"}},
"config":{
 "view":{"stroke":"black","strokeWidth":2},
 "concat":{"spacing":34},
 "axis":{"grid":false,"domain":false,"labelFont":"Liberation Serif","labelFontWeight":"bold","labelFontSize":13,"labelColor":"black","titleFont":"Liberation Serif","titleFontWeight":"bold","titleColor":"black","tickColor":"black","labelFlush":false,"labelOverlap":false}
}
}
